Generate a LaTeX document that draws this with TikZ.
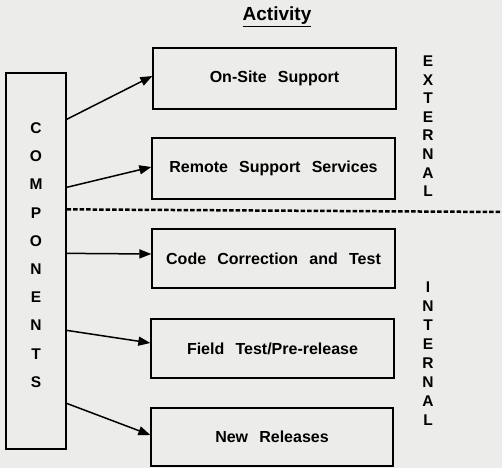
\documentclass[tikz,border=0pt]{standalone}
\usepackage{fontspec}
\setmainfont{Liberation Sans}
\usetikzlibrary{arrows.meta,calc}
\definecolor{paper}{HTML}{ECECEA}
\newcommand{\gp}{\hspace{0.7em}}
\begin{document}
\begin{tikzpicture}[x=1pt,y=-1pt,
  every node/.style={font=\bfseries\fontsize{16}{18}\selectfont},
  actbox/.style={draw,line width=1.3pt,minimum width=243pt,inner sep=0pt,anchor=center},
  conn/.style={line width=1.5pt,-{Triangle[length=12pt,width=9pt]}},
  ltr/.style={font=\bfseries\fontsize{15.5}{17}\selectfont,inner sep=0pt}]
\fill[paper] (0,0) rectangle (502,468);
\useasboundingbox (0,0) rectangle (502,468);
\node[font=\bfseries\fontsize{19}{21}\selectfont] (title) at (277,17) {\underline{Activity}};
\node[draw,line width=1.3pt,minimum width=60pt,minimum height=376pt,inner sep=0pt] (comp) at (36,261) {};
\node[actbox,minimum height=61pt] (b1) at (274.5,78.5) {On-Site\gp Support};
\node[actbox,minimum height=61pt] (b2) at (273.5,168.5) {Remote\gp Support\gp Services};
\node[actbox,minimum height=59pt] (b3) at (273.5,258.5) {Code\gp Correction\gp and\gp Test};
\node[actbox,minimum height=59pt] (b4) at (272.5,348.5) {Field\gp Test/Pre-release};
\node[actbox,minimum width=242pt,minimum height=58pt] (b5) at (272,437) {New\gp Releases};
\foreach \l [count=\i] in {C,O,M,P,O,N,E,N,T,S}
  \node[ltr] (c\i) at (36,100+28.2*\i) {\l};
\foreach \l [count=\i] in {E,X,T,E,R,N,A,L}
  \node[ltr] (e\i) at (428,42.5+18.6*\i) {\l};
\foreach \l [count=\i] in {I,N,T,E,R,N,A,L}
  \node[ltr] (n\i) at (428,268+19*\i) {\l};
\coordinate (s1) at ($(comp.north east)+(0,47)$);
\coordinate (s2) at ($(comp.north east)+(0,115)$);
\coordinate (s3) at ($(comp.north east)+(0,181)$);
\coordinate (s4) at ($(comp.north east)+(0,258)$);
\coordinate (s5) at ($(comp.north east)+(0,331)$);
\coordinate (d1) at ($(comp.north east)+(0,137)$);
\coordinate (d2) at (502,212);
\draw[conn] (s1) -- ($(b1.west)+(0,-2.5)$);
\draw[conn] (s2) -- ($(b2.west)+(0,-1.5)$);
\draw[conn] (s3) -- ($(b3.west)+(0,-4.5)$);
\draw[conn] (s4) -- ($(b4.west)+(0,-5.5)$);
\draw[conn] (s5) -- ($(b5.west)+(0,-2)$);
\draw[line width=2.5pt,dash pattern=on 4.5pt off 2pt] (d1) -- (d2);
\end{tikzpicture}
\end{document}
